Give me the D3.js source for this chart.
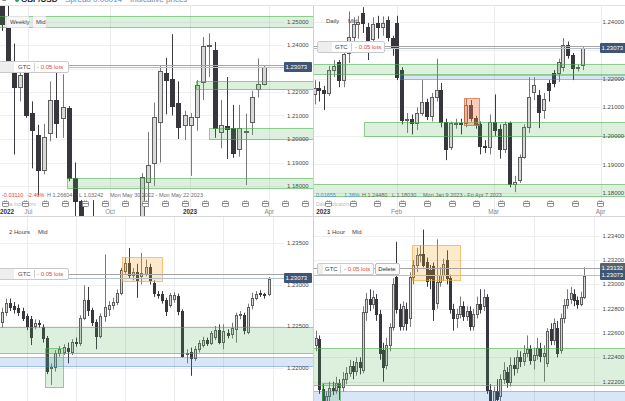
<!DOCTYPE html>
<html><head><meta charset="utf-8">
<script src="https://cdn.jsdelivr.net/npm/d3@7"></script>
<style>
html,body{margin:0;padding:0;background:#fff;overflow:hidden}
svg{display:block;font-family:"Liberation Sans",Arial,sans-serif}
</style></head><body>
<svg id="c" width="625" height="401"></svg>
<script>
// ---------- DATA : candles are [open, high, low, close] ----------
const weeklyCandles=[
[1.2620,1.2666,1.2460,1.2490],[1.2472,1.2600,1.2310,1.2328],[1.2285,1.2406,1.1934,1.2221],[1.2221,1.2325,1.2160,1.2272],
[1.2285,1.2330,1.2090,1.2102],[1.2110,1.2160,1.1875,1.2038],[1.2017,1.2060,1.1760,1.1868],[1.1868,1.2065,1.1850,1.2008],
[1.2026,1.2245,1.1990,1.2166],[1.2166,1.2293,1.2004,1.2068],[1.2089,1.2275,1.2005,1.2136],[1.2132,1.2140,1.1820,1.1834],
[1.1834,1.1900,1.1650,1.1735],[1.1735,1.1740,1.1445,1.1520],[1.1520,1.1650,1.1405,1.1580],[1.1580,1.1740,1.1350,1.1410],
[1.1410,1.1470,1.0840,1.0860],[1.0860,1.1230,1.0350,1.1170],[1.1170,1.1495,1.1050,1.1090],[1.1090,1.1380,1.0925,1.1170],
[1.1170,1.1440,1.1060,1.1300],[1.1300,1.1645,1.1260,1.1610],[1.1610,1.1615,1.1150,1.1380],[1.1380,1.1855,1.1335,1.1838],
[1.1817,1.2030,1.1710,1.1889],[1.1898,1.2155,1.1800,1.2094],[1.2072,1.2310,1.1900,1.2289],[1.2281,1.2345,1.2105,1.2251],
[1.2255,1.2446,1.2100,1.2140],[1.2153,1.2245,1.2000,1.2051],[1.2060,1.2120,1.1996,1.2102],[1.2060,1.2110,1.1843,1.2094],
[1.2094,1.2251,1.2035,1.2230],[1.2243,1.2434,1.2166,1.2396],[1.2395,1.2450,1.2264,1.2398],[1.2379,1.2413,1.2005,1.2047],
[1.2030,1.2166,1.1960,1.2060],[1.2055,1.2264,1.1915,1.2042],[1.2047,1.2145,1.1920,1.1940],[1.1957,1.2145,1.1925,1.2047],
[1.2030,1.2108,1.1804,1.2035],[1.2072,1.2205,1.2017,1.2178],[1.2213,1.2343,1.2176,1.2234],[1.2234,1.2310,1.2228,1.2307]
];
const dailyCandles=[
[1.2145,1.2195,1.2110,1.2168],[1.2168,1.2190,1.2120,1.2160],[1.2160,1.2175,1.2090,1.2150],[1.2150,1.2245,1.2140,1.2230],
[1.2230,1.2265,1.2205,1.2245],[1.2258,1.2265,1.2170,1.2195],[1.2195,1.2290,1.2170,1.2285],[1.2290,1.2435,1.2255,1.2345],
[1.2345,1.2415,1.2300,1.2390],[1.2390,1.2420,1.2340,1.2400],[1.2430,1.2450,1.2360,1.2395],[1.2380,1.2395,1.2265,1.2335],
[1.2340,1.2415,1.2320,1.2390],[1.2395,1.2420,1.2340,1.2380],[1.2380,1.2418,1.2350,1.2395],[1.2405,1.2418,1.2330,1.2345],
[1.2342,1.2350,1.2280,1.2311],[1.2395,1.2420,1.2195,1.2206],[1.2230,1.2240,1.2040,1.2055],[1.2055,1.2080,1.2010,1.2060],
[1.2060,1.2075,1.2005,1.2045],[1.2045,1.2100,1.2020,1.2080],[1.2080,1.2195,1.2070,1.2120],[1.2120,1.2130,1.2055,1.2070],
[1.2070,1.2150,1.2050,1.2135],[1.2135,1.2270,1.2120,1.2160],[1.2160,1.2185,1.2030,1.2048],[1.2048,1.2060,1.1915,1.1955],
[1.1960,1.2050,1.1950,1.2045],[1.2042,1.2060,1.2025,1.2045],[1.2045,1.2060,1.2005,1.2042],[1.2045,1.2130,1.2030,1.2108],
[1.2108,1.2125,1.2050,1.2063],[1.2062,1.2070,1.2025,1.2040],[1.2040,1.2050,1.1935,1.1965],[1.1965,1.1985,1.1940,1.1960],
[1.1960,1.2075,1.1935,1.2050],[1.2050,1.2145,1.2000,1.2020],[1.2025,1.2040,1.1920,1.1955],[1.1955,1.2050,1.1940,1.2040],
[1.2045,1.2050,1.1820,1.1830],[1.1830,1.1860,1.1803,1.1840],[1.1845,1.1935,1.1835,1.1925],[1.1925,1.2040,1.1920,1.2030],
[1.2030,1.2205,1.2010,1.2135],[1.2153,1.2205,1.2125,1.2178],[1.2143,1.2160,1.2027,1.2085],[1.2090,1.2150,1.2060,1.2130],
[1.2185,1.2195,1.2120,1.2160],[1.2220,1.2230,1.2170,1.2185],[1.2220,1.2270,1.2189,1.2258],[1.2241,1.2342,1.2225,1.2318],
[1.2318,1.2330,1.2270,1.2283],[1.2283,1.2290,1.2195,1.2237],[1.2237,1.2250,1.2225,1.2240],[1.2248,1.2310,1.2230,1.2307]
];
const h2Candles=[
[1.2255,1.2272,1.2248,1.2267],[1.2267,1.2283,1.2262,1.2278],[1.2278,1.2283,1.2268,1.2273],[1.2274,1.2279,1.2265,1.2270],
[1.2272,1.2276,1.2262,1.2267],[1.2268,1.2272,1.2256,1.2260],[1.2262,1.2265,1.2245,1.2250],[1.2258,1.2262,1.2227,1.2237],
[1.2250,1.2258,1.2246,1.2254],[1.2254,1.2257,1.2248,1.2252],[1.2249,1.2252,1.2230,1.2235],[1.2235,1.2238,1.2192,1.2196],
[1.2199,1.2205,1.2179,1.2201],[1.2201,1.2221,1.2195,1.2218],[1.2217,1.2226,1.2213,1.2222],[1.2219,1.2228,1.2215,1.2225],
[1.2224,1.2230,1.2205,1.2220],[1.2219,1.2234,1.2215,1.2231],[1.2231,1.2236,1.2225,1.2229],[1.2229,1.2263,1.2226,1.2260],
[1.2260,1.2299,1.2257,1.2281],[1.2281,1.2297,1.2262,1.2269],[1.2269,1.2272,1.2250,1.2255],[1.2255,1.2258,1.2222,1.2238],
[1.2238,1.2265,1.2235,1.2262],[1.2262,1.2336,1.2255,1.2273],[1.2270,1.2280,1.2262,1.2275],[1.2275,1.2284,1.2270,1.2279],
[1.2279,1.2294,1.2275,1.2290],[1.2290,1.2320,1.2287,1.2318],[1.2316,1.2332,1.2313,1.2326],[1.2326,1.2344,1.2307,1.2311],
[1.2311,1.2320,1.2305,1.2315],[1.2315,1.2325,1.2284,1.2305],[1.2310,1.2338,1.2300,1.2314],[1.2313,1.2330,1.2310,1.2321],
[1.2321,1.2325,1.2300,1.2305],[1.2302,1.2305,1.2285,1.2290],[1.2289,1.2292,1.2283,1.2287],[1.2289,1.2292,1.2277,1.2281],
[1.2281,1.2284,1.2262,1.2268],[1.2275,1.2290,1.2272,1.2287],[1.2283,1.2291,1.2278,1.2287],[1.2286,1.2289,1.2263,1.2268],
[1.2268,1.2270,1.2212,1.2214],[1.2216,1.2222,1.2205,1.2218],[1.2219,1.2224,1.2190,1.2212],[1.2212,1.2226,1.2208,1.2222],
[1.2222,1.2233,1.2218,1.2229],[1.2227,1.2237,1.2224,1.2233],[1.2233,1.2236,1.2226,1.2230],[1.2230,1.2244,1.2227,1.2241],
[1.2237,1.2250,1.2233,1.2245],[1.2245,1.2252,1.2228,1.2231],[1.2231,1.2252,1.2222,1.2244],[1.2242,1.2246,1.2235,1.2239],
[1.2240,1.2254,1.2235,1.2248],[1.2246,1.2266,1.2230,1.2263],[1.2263,1.2268,1.2258,1.2264],[1.2263,1.2266,1.2240,1.2245],
[1.2243,1.2277,1.2240,1.2273],[1.2275,1.2290,1.2270,1.2284],[1.2284,1.2292,1.2281,1.2289],[1.2290,1.2293,1.2285,1.2288],
[1.2288,1.2290,1.2283,1.2287],[1.2288,1.2309,1.2286,1.2307]
];
const h1Candles=[
[1.2250,1.2262,1.2245,1.2256],[1.2255,1.2258,1.2210,1.2214],[1.2214,1.2218,1.2185,1.2195],[1.2196,1.2212,1.2190,1.2208],
[1.2208,1.2220,1.2203,1.2215],[1.2215,1.2220,1.2209,1.2213],[1.2213,1.2224,1.2210,1.2219],[1.2219,1.2222,1.2205,1.2216],
[1.2216,1.2228,1.2212,1.2222],[1.2222,1.2232,1.2218,1.2227],[1.2227,1.2238,1.2224,1.2233],[1.2233,1.2237,1.2222,1.2229],
[1.2229,1.2240,1.2225,1.2236],[1.2236,1.2240,1.2226,1.2232],[1.2230,1.2282,1.2227,1.2277],[1.2277,1.2293,1.2270,1.2288],
[1.2288,1.2296,1.2278,1.2284],[1.2284,1.2295,1.2280,1.2290],[1.2288,1.2292,1.2270,1.2276],[1.2276,1.2279,1.2238,1.2244],
[1.2246,1.2252,1.2220,1.2232],[1.2234,1.2256,1.2230,1.2250],[1.2250,1.2268,1.2245,1.2265],[1.2265,1.2305,1.2262,1.2300],
[1.2306,1.2335,1.2276,1.2280],[1.2280,1.2284,1.2262,1.2266],[1.2266,1.2286,1.2262,1.2282],[1.2280,1.2285,1.2262,1.2268],
[1.2272,1.2310,1.2265,1.2306],[1.2306,1.2320,1.2300,1.2316],[1.2316,1.2330,1.2310,1.2324],[1.2324,1.2332,1.2318,1.2325],
[1.2325,1.2345,1.2314,1.2316],[1.2318,1.2322,1.2298,1.2303],[1.2312,1.2316,1.2296,1.2305],[1.2315,1.2318,1.2270,1.2280],
[1.2285,1.2337,1.2280,1.2302],[1.2302,1.2314,1.2298,1.2308],[1.2308,1.2321,1.2303,1.2317],[1.2320,1.2328,1.2300,1.2305],
[1.2305,1.2308,1.2276,1.2280],[1.2280,1.2284,1.2262,1.2272],[1.2272,1.2280,1.2264,1.2276],[1.2276,1.2290,1.2272,1.2282],
[1.2282,1.2286,1.2270,1.2274],[1.2274,1.2282,1.2270,1.2278],[1.2278,1.2282,1.2262,1.2266],[1.2266,1.2280,1.2262,1.2276],
[1.2276,1.2290,1.2272,1.2284],[1.2284,1.2296,1.2276,1.2280],[1.2282,1.2296,1.2278,1.2290],[1.2290,1.2292,1.2210,1.2213],
[1.2213,1.2218,1.2192,1.2200],[1.2200,1.2216,1.2195,1.2212],[1.2212,1.2222,1.2200,1.2206],[1.2208,1.2226,1.2204,1.2222],
[1.2222,1.2236,1.2218,1.2230],[1.2228,1.2232,1.2215,1.2220],[1.2220,1.2240,1.2216,1.2234],[1.2234,1.2240,1.2225,1.2231],
[1.2231,1.2246,1.2227,1.2240],[1.2240,1.2245,1.2232,1.2237],[1.2237,1.2250,1.2233,1.2244],[1.2244,1.2258,1.2240,1.2247],
[1.2247,1.2250,1.2234,1.2238],[1.2238,1.2248,1.2230,1.2242],[1.2242,1.2256,1.2238,1.2248],[1.2248,1.2252,1.2236,1.2241],
[1.2241,1.2250,1.2220,1.2244],[1.2235,1.2264,1.2232,1.2262],[1.2263,1.2268,1.2250,1.2254],[1.2254,1.2272,1.2250,1.2268],
[1.2264,1.2270,1.2240,1.2244],[1.2246,1.2276,1.2243,1.2272],[1.2272,1.2288,1.2268,1.2283],[1.2283,1.2296,1.2280,1.2288],
[1.2288,1.2298,1.2284,1.2293],[1.2292,1.2296,1.2282,1.2287],[1.2287,1.2290,1.2280,1.2284],[1.2284,1.2294,1.2282,1.2290],
[1.2290,1.2314,1.2288,1.2307]
];

const weeklyPriceTicks=[1.25,1.24,1.23,1.22,1.21,1.20,1.19,1.18];
const dailyPriceTicks=[1.24,1.23,1.22,1.21,1.20,1.19,1.18];
const h2PriceTicks=[1.235,1.23,1.225,1.22];
const h1PriceTicks=[1.234,1.232,1.230,1.228,1.226,1.224,1.222];

const weeklyTimeLabels=["2022","Jul","Oct","2023","Apr"];
const weeklyTimeIdx=[0.9,4.4,17.8,30.9,43.9];
const dailyTimeLabels=["2023","Feb","Mar","Apr"];
const dailyTimeIdx=[1.8,16.8,36.7,58.6];
const h2DayGridIdx=[6,18,30,42,54,66];
const h1DayGridIdx=[29.3,47.2,65.1,83];

const currentPrice=1.23073;
const orderPrice=1.23132;

const weeklyZones=[
 {kind:'green',from:null,top:1.2523,bottom:1.2477},
 {kind:'green',from:31.9,top:1.2247,bottom:1.2213},
 {kind:'green',from:34.0,top:1.2047,bottom:1.2000},
 {kind:'green',from:10.7,top:1.1834,bottom:1.1791}];
const dailyZones=[
 {kind:'green',from:null,top:1.2251,bottom:1.2216},
 {kind:'blue',from:17.5,top:1.2213,bottom:1.2199},
 {kind:'green',from:10.1,top:1.2049,bottom:1.1999},
 {kind:'green',from:null,top:1.1831,bottom:1.1790},
 {kind:'salmon',from:30.6,to:33.6,top:1.2132,bottom:1.2038}];
const h2Zones=[
 {kind:'green',from:null,top:1.2249,bottom:1.2218},
 {kind:'blue',from:null,top:1.2213,bottom:1.2202},
 {kind:'green',from:10.5,to:14.9,top:1.2223,bottom:1.2176},
 {kind:'orange',from:29.3,to:39.0,top:1.2333,bottom:1.2304}];
const h1Zones=[
 {kind:'green',from:null,top:1.2248,bottom:1.2217},
 {kind:'blue',from:null,top:1.2212,bottom:1.2190},
 {kind:'green',from:1.8,to:7.2,top:1.2219,bottom:1.2190},
 {kind:'orange',from:28.7,to:43.0,top:1.2332,bottom:1.2304}];

const weeklyInfo=["-0.03110","-2.46%","H 1.26604","L 1.03242","Mon May 30 2022 - Mon May 22 2023"];
const dailyInfo=["0.01655","1.38%","H 1.24480","L 1.18030","Mon Jan 9 2023 - Fri Apr 7 2023"];

// ---------- DRAWING ----------
const svg=d3.select('#c');
const defs=svg.append('defs');
svg.append('rect').attr('width',625).attr('height',401).attr('fill','#fff');
const zoneFill={green:'rgba(76,175,80,0.19)',blue:'rgba(59,130,214,0.2)',orange:'rgba(245,166,35,0.24)',salmon:'rgba(239,125,74,0.38)'};
const zoneStroke={green:'rgba(76,175,80,0.6)',blue:'rgba(59,130,214,0.45)',orange:'rgba(240,160,40,0.6)',salmon:'rgba(215,110,60,0.75)'};
const P=v=>Math.round(v)+0.5;

function drawPanel(c){
  const cid='clip-'+c.id;
  defs.append('clipPath').attr('id',cid).append('rect')
    .attr('x',c.x0).attr('y',c.y0).attr('width',c.x1-c.x0).attr('height',c.y1-c.y0);
  const g=svg.append('g').attr('clip-path',`url(#${cid})`);
  const x=d3.scaleLinear().domain(c.xDomain).range(c.xRange);
  const y=d3.scaleLinear().domain(c.yDomain).range(c.yRange);
  // grid
  g.append('g').selectAll('line').data(c.priceTicks).join('line')
    .attr('x1',c.x0).attr('x2',c.labelX-3).attr('y1',d=>P(y(d))).attr('y2',d=>P(y(d)))
    .attr('stroke','#efefef');
  g.append('g').selectAll('line').data(c.vGrid).join('line')
    .attr('x1',d=>P(x(d))).attr('x2',d=>P(x(d))).attr('y1',c.y0).attr('y2',c.y1).attr('stroke','#ececec');
  // candles
  const bw=c.bodyW, up=d=>d[3]>=d[0];
  const cg=g.append('g');
  cg.selectAll('line').data(c.candles).join('line')
    .attr('x1',(d,i)=>P(x(i))).attr('x2',(d,i)=>P(x(i)))
    .attr('y1',d=>y(d[1])).attr('y2',d=>y(d[2]))
    .attr('stroke',d=>up(d)?'#7a7a7a':'#3a3a40');
  cg.selectAll('rect').data(c.candles).join('rect')
    .attr('x',(d,i)=>Math.round(x(i))-Math.floor(bw/2)+0.5)
    .attr('width',bw-1)
    .attr('y',d=>P(y(Math.max(d[0],d[3]))))
    .attr('height',d=>Math.max(1,Math.round(y(Math.min(d[0],d[3])))-Math.round(y(Math.max(d[0],d[3])))))
    .attr('fill',d=>up(d)?'#d9d9d9':'#36363c')
    .attr('stroke',d=>up(d)?'#5e5e5e':'#36363c');
  // zones
  const zx0=d=>d.from==null?c.x0-3:P(x(d.from));
  const zx1=d=>d.to==null?c.x1+3:P(x(d.to));
  g.append('g').selectAll('rect').data(c.zones).join('rect')
    .attr('x',zx0).attr('width',d=>zx1(d)-zx0(d))
    .attr('y',d=>P(y(d.top))).attr('height',d=>Math.round(y(d.bottom))-Math.round(y(d.top)))
    .attr('fill',d=>zoneFill[d.kind]).attr('stroke',d=>zoneStroke[d.kind]);
  // price labels (those fully hidden by the current-price box are skipped)
  const yCur=y(currentPrice);
  g.append('g').selectAll('text').data(c.priceTicks.filter(d=>Math.abs(y(d)-yCur)>=4)).join('text')
    .attr('x',c.labelX).attr('y',d=>y(d)).attr('dy','0.35em')
    .attr('font-size',6).attr('fill','#4a4a4a').text(d=>d.toFixed(5));
  // order line + current price line
  g.append('line').attr('x1',c.x0).attr('x2',c.priceBoxX).attr('y1',P(y(orderPrice))).attr('y2',P(y(orderPrice)))
    .attr('stroke','#a4a4a4').attr('stroke-width',1);
  g.append('line').attr('x1',c.x0).attr('x2',c.priceBoxX).attr('y1',P(yCur)).attr('y2',P(yCur))
    .attr('stroke','#b4bfcc').attr('stroke-width',1);
  // GTC box
  const o=c.gtc, yc=y(orderPrice)+(c.gtcShift||0), bh=11, top=Math.round(yc-bh/2)+0.5;
  g.append('rect').attr('x',o.x0+0.5).attr('y',top).attr('width',o.x1-o.x0).attr('height',bh)
    .attr('fill','#fff').attr('stroke','#c9c9c9').attr('rx',1.5);
  g.append('rect').attr('x',o.x0+1).attr('y',top+0.5).attr('width',o.handle).attr('height',bh-1).attr('fill','#eeeeee');
  g.append('text').attr('x',o.gtcX).attr('y',top+bh/2).attr('dy','0.35em').attr('font-size',6).attr('fill','#444').text('GTC');
  g.append('line').attr('x1',o.divX+0.5).attr('x2',o.divX+0.5).attr('y1',top+1.5).attr('y2',top+bh-1.5).attr('stroke','#cfcfcf');
  g.append('text').attr('x',o.lotsX).attr('y',top+bh/2).attr('dy','0.35em').attr('font-size',6).attr('fill','#e04a3c').text('- 0.05 lots');
  if(o.del){
    g.append('rect').attr('x',o.del[0]+0.5).attr('y',top).attr('width',o.del[1]-o.del[0]).attr('height',bh)
      .attr('fill','#fafafa').attr('stroke','#bdbdbd').attr('rx',1.5);
    g.append('text').attr('x',(o.del[0]+o.del[1])/2).attr('y',top+bh/2).attr('dy','0.35em').attr('text-anchor','middle')
      .attr('font-size',6).attr('fill','#333').text('Delete');
  }
  // price boxes
  if(c.showOrderBox){
    const yy=Math.round(y(orderPrice));
    g.append('rect').attr('x',c.priceBoxX).attr('y',yy-5).attr('width',c.boxW).attr('height',9).attr('fill','#5b626c').attr('rx',1);
    g.append('text').attr('x',c.priceBoxX+1.5).attr('y',yy-0.5).attr('dy','0.35em').attr('font-size',6).attr('fill','#fff').text(orderPrice.toFixed(5));
  }
  const yy=Math.round(yCur);
  g.append('rect').attr('x',c.priceBoxX).attr('y',yy-5).attr('width',c.boxW).attr('height',10).attr('fill','#3e5573').attr('rx',1);
  g.append('text').attr('x',c.priceBoxX+1.5).attr('y',yy).attr('dy','0.35em').attr('font-size',6).attr('fill','#fff').text(currentPrice.toFixed(5));
  // title tags
  c.titles.forEach(t=>{
    if(c.titleBoxes){
      g.append('rect').attr('x',t.x-3.5).attr('y',c.titleY-5.5).attr('width',t.w).attr('height',11)
        .attr('fill','rgba(247,247,247,0.95)').attr('stroke','#e2e2e2').attr('rx',1.5);
    }
    g.append('text').attr('x',t.x).attr('y',c.titleY).attr('dy','0.35em').attr('font-size',6).attr('fill','#444').text(t.text);
  });
  // bottom axis (top row panels)
  if(c.info){
    g.append('g').selectAll('text').data(c.info).join('text')
      .attr('x',(d,i)=>c.infoX[i]).attr('y',197).attr('font-size',5.5)
      .attr('fill',(d,i)=>i<2?c.infoColor:'#6b6b6b').text(d=>d);
    g.append('text').attr('x',c.x0+2).attr('y',205.5).attr('font-size',5).attr('fill','#bbb').text('Data Indicators');
    const icons=d3.range(c.iconStart,c.x1-4,c.iconStep);
    const ic=g.append('g').selectAll('g').data(icons).join('g').attr('transform',d=>`translate(${Math.round(d)},200)`);
    ic.append('rect').attr('x',0.5).attr('y',1.5).attr('width',6).attr('height',5).attr('fill','#fff').attr('stroke','#8c8c8c').attr('rx',0.8);
    ic.append('line').attr('x1',0.5).attr('x2',6.5).attr('y1',3.5).attr('y2',3.5).attr('stroke','#8c8c8c');
    ic.append('line').attr('x1',2.5).attr('x2',2.5).attr('y1',0.5).attr('y2',2).attr('stroke','#8c8c8c');
    ic.append('line').attr('x1',4.5).attr('x2',4.5).attr('y1',0.5).attr('y2',2).attr('stroke','#8c8c8c');
    g.append('g').selectAll('text').data(c.timeLabels).join('text')
      .attr('x',(d,i)=>x(c.timeIdx[i])).attr('y',214).attr('text-anchor','middle')
      .attr('font-size',6.3).attr('font-weight',d=>/^\d/.test(d)?'bold':'normal')
      .attr('fill',d=>/^\d/.test(d)?'#333':'#8a8a8a').text(d=>d);
  }
}

drawPanel({id:'w',x0:0,x1:313,y0:5,y1:216,xDomain:[0,43],xRange:[1.5,263.8],yDomain:[1.18,1.25],yRange:[186,21.5],
  candles:weeklyCandles,bodyW:5,priceTicks:weeklyPriceTicks,vGrid:weeklyTimeIdx.slice(1),zones:weeklyZones,labelX:287,priceBoxX:284,boxW:28,
  gtc:{x0:-2,x1:68,handle:15,gtcX:18,divX:34,lotsX:37},gtcShift:1,titles:[{x:10,w:23,text:'Weekly'},{x:36,w:14,text:'Mid'}],titleY:22,titleBoxes:true,
  info:weeklyInfo,infoX:[2,27,47,79,110],infoColor:'#d9473b',iconStart:2,iconStep:20,timeLabels:weeklyTimeLabels,timeIdx:weeklyTimeIdx});
drawPanel({id:'d',x0:314,x1:625,y0:5,y1:216,xDomain:[0,55],xRange:[314.5,583],yDomain:[1.18,1.24],yRange:[193,21.5],
  candles:dailyCandles,bodyW:4,priceTicks:dailyPriceTicks,vGrid:dailyTimeIdx.slice(1),zones:dailyZones,labelX:602.5,priceBoxX:600,boxW:26,
  gtc:{x0:317,x1:384,handle:14,gtcX:335,divX:351,lotsX:355},titles:[{x:326,w:20,text:'Daily'},{x:348,w:14,text:'Mid'}],titleY:21,titleBoxes:false,
  info:dailyInfo,infoX:[316,344,362,392,423],infoColor:'#4a8fd8',iconStart:325,iconStep:24.7,timeLabels:dailyTimeLabels,timeIdx:dailyTimeIdx});
drawPanel({id:'h2',x0:0,x1:313,y0:217,y1:401,xDomain:[0,65],xRange:[2,268.5],yDomain:[1.22,1.235],yRange:[367.5,243],
  candles:h2Candles,bodyW:3,priceTicks:h2PriceTicks,vGrid:h2DayGridIdx,zones:h2Zones,labelX:287,priceBoxX:284,boxW:28,
  gtc:{x0:-2,x1:68,handle:15,gtcX:18,divX:34,lotsX:37},titles:[{x:9,w:26,text:'2 Hours'},{x:38,w:14,text:'Mid'}],titleY:232,titleBoxes:false});
drawPanel({id:'h1',x0:314,x1:625,y0:217,y1:401,xDomain:[0,80],xRange:[316,584],yDomain:[1.222,1.234],yRange:[381.7,235.7],
  candles:h1Candles,bodyW:3,priceTicks:h1PriceTicks,vGrid:h1DayGridIdx,zones:h1Zones,labelX:602.5,priceBoxX:600,boxW:26,showOrderBox:true,
  gtc:{x0:317,x1:373,handle:5,gtcX:325,divX:340,lotsX:344,del:[375,399]},titles:[{x:327,w:22,text:'1 Hour'},{x:352,w:14,text:'Mid'}],titleY:232,titleBoxes:false});

// panel separators and header sliver
svg.append('line').attr('x1',313.5).attr('x2',313.5).attr('y1',5).attr('y2',401).attr('stroke','#cfcfcf');
svg.append('line').attr('x1',0).attr('x2',625).attr('y1',216.5).attr('y2',216.5).attr('stroke','#d6d6d6');
svg.append('rect').attr('x',0).attr('y',0).attr('width',625).attr('height',5).attr('fill','#fff');
svg.append('line').attr('x1',0).attr('x2',625).attr('y1',5.5).attr('y2',5.5).attr('stroke','#e2e2e2');
const hdr=svg.append('g').attr('font-size',8);
hdr.append('text').attr('x',2).attr('y',2).attr('fill','#333').text('≡');
hdr.append('circle').attr('cx',17).attr('cy',0).attr('r',2).attr('fill','#2e9e4f');
hdr.append('text').attr('x',21).attr('y',2).attr('fill','#222').attr('font-weight','bold').text('GBP/USD');
hdr.append('text').attr('x',65).attr('y',2).attr('fill','#4a8fd8').text('Spread 0.00014');
hdr.append('text').attr('x',130).attr('y',2).attr('fill','#888').text('Indicative prices');
</script>
</body></html>
